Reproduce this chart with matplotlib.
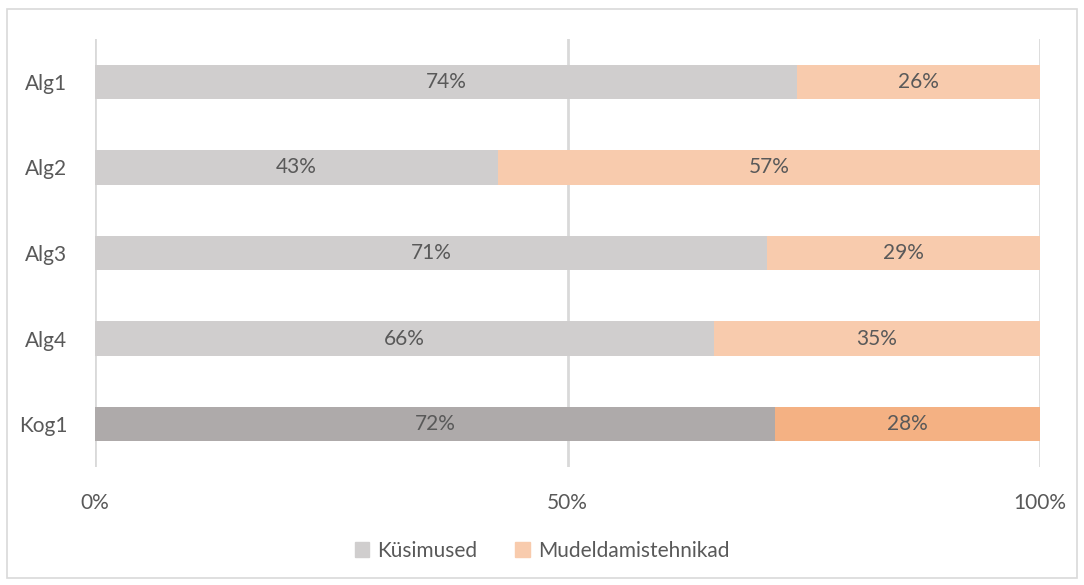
import matplotlib.pyplot as plt
from matplotlib.patches import Rectangle, Patch

plt.rcParams['font.family'] = ['Lato', 'DejaVu Sans']

# data (shares in %)
categories = ['Alg1', 'Alg2', 'Alg3', 'Alg4', 'Kog1']
kusimused = [74.3, 42.6, 71.1, 65.5, 72.0]
mudel = [25.7, 57.4, 28.9, 34.5, 28.0]
kus_labels = ['74%', '43%', '71%', '66%', '72%']
mud_labels = ['26%', '57%', '29%', '35%', '28%']

kus_colors = ['#D0CECE'] * 4 + ['#AEAAAA']
mud_colors = ['#F8CBAD'] * 4 + ['#F4B183']
text_color = '#595959'
fs = 15

fig = plt.figure(figsize=(10.84, 5.85), dpi=100)
ax = fig.add_axes([95 / 1084, 1 - 467 / 585, 945 / 1084, 428 / 585])

y = list(range(len(categories)))
ax.barh(y, kusimused, height=0.4, color=kus_colors, zorder=3)
ax.barh(y, mudel, left=kusimused, height=0.4, color=mud_colors, zorder=3)

for i in y:
    ax.text(kusimused[i] / 2, i, kus_labels[i], ha='center', va='center',
            fontsize=fs, color=text_color, zorder=4)
    ax.text(kusimused[i] + mudel[i] / 2, i, mud_labels[i], ha='center', va='center',
            fontsize=fs, color=text_color, zorder=4)

ax.set_xlim(0, 100)
ax.set_ylim(4.5, -0.5)
ax.set_yticks(y)
ax.set_yticklabels(categories)
ax.set_xticks([0, 50, 100])
ax.set_xticklabels(['0%', '50%', '100%'])
ax.tick_params(length=0, labelsize=fs, labelcolor=text_color)
ax.tick_params(axis='x', pad=19)
ax.tick_params(axis='y', pad=20)
for s in ax.spines.values():
    s.set_visible(False)
ax.grid(axis='x', color='#D9D9D9', linewidth=2, zorder=0)

# legend
handles = [Patch(color='#D0CECE', label='Küsimused'),
           Patch(color='#F8CBAD', label='Mudeldamistehnikad')]
fig.legend(handles=handles, loc='center', bbox_to_anchor=(0.5, 1 - 551 / 585), ncol=2,
           frameon=False, fontsize=fs, labelcolor=text_color, handlelength=0.7,
           handleheight=0.7, handletextpad=0.4, columnspacing=1.8)

fig.patches.append(Rectangle((7 / 1084, 1 - 578 / 585), 1070 / 1084, 569 / 585,
                             transform=fig.transFigure, fill=False,
                             edgecolor='#D9D9D9', linewidth=1.2))

fig.savefig('out.png', dpi=100)
